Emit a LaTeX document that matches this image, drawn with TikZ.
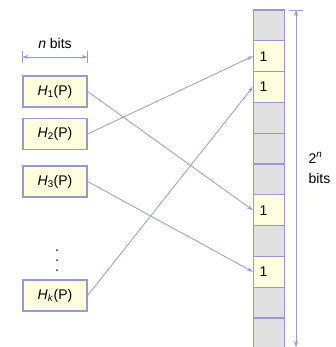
\documentclass[tikz,border=0pt]{standalone}
\usepackage{fontspec}
\setmainfont{Liberation Sans}
\usetikzlibrary{arrows.meta}
\definecolor{lila}{RGB}{153,153,204}
\definecolor{paleyellow}{RGB}{255,255,224}
\definecolor{cellgray}{RGB}{224,224,224}
\begin{document}
\begin{tikzpicture}[>={Stealth[length=6pt,width=4pt]},x=1pt,y=-1pt,font=\fontsize{14}{20}\selectfont,
	hbox/.style={draw=lila,line width=1.3pt,fill=paleyellow,minimum width=64pt,minimum height=31pt,inner sep=0pt},
	cell/.style={draw=lila,line width=1.3pt,minimum width=31pt,minimum height=30.8pt,inner xsep=6pt,inner ysep=0pt,text width=19pt,align=left},
	link/.style={lila,line width=0.8pt,->}]
	\useasboundingbox (0,0) rectangle (335,347);
	% hash functions
	\node[hbox] (h1) at (55,91.5) {\textit{H}\textsubscript{1}(P)};
	\node[hbox] (h2) at (55,134) {\textit{H}\textsubscript{2}(P)};
	\node[hbox] (h3) at (55,181.5) {\textit{H}\textsubscript{3}(P)};
	\node[hbox] (hk) at (55,295.5) {\textit{H}\textsubscript{\textit{k}}(P)};
	\foreach \y in {250,260,270} \fill[black!80] (57,\y) circle (1pt);
	% width of a hash value
	\node (nbits) at (55,43) {\textit{n} bits};
	\draw[lila,line width=0.8pt,<->] (h1.west |- 0,57) -- (h1.east |- 0,57);
	\draw[lila,line width=0.8pt] (h1.west |- 0,51) -- (h1.west |- 0,63) (h1.east |- 0,51) -- (h1.east |- 0,63);
	% bit array
	\foreach \i/\col/\txt in {1/cellgray/,2/paleyellow/1,3/paleyellow/1,4/cellgray/,5/cellgray/,6/cellgray/,
		7/paleyellow/1,8/cellgray/,9/paleyellow/1,10/cellgray/,11/cellgray/}
		\node[cell,fill=\col] (c\i) at (269,{10+30.8*(\i-0.5)}) {\txt};
	% length of the array
	\coordinate (ttop) at (296,10);
	\coordinate (tbot) at (296,347);
	\draw[lila,line width=0.8pt,<->] (ttop) -- (tbot);
	\draw[lila,line width=0.8pt] (ttop) ++(-7,0) -- ++(14,0);
	\node[anchor=west,align=left] (len) at (305,168) {2\textsuperscript{\textit{n}}\\bits};
	% hashes set bits
	\draw[link] (h1.east) -- (c7.west);
	\draw[link] (h2.east) -- (c2.west);
	\draw[link] (h3.east) -- (c9.west);
	\draw[link] (hk.east) -- (c3.west);
\end{tikzpicture}
\end{document}
